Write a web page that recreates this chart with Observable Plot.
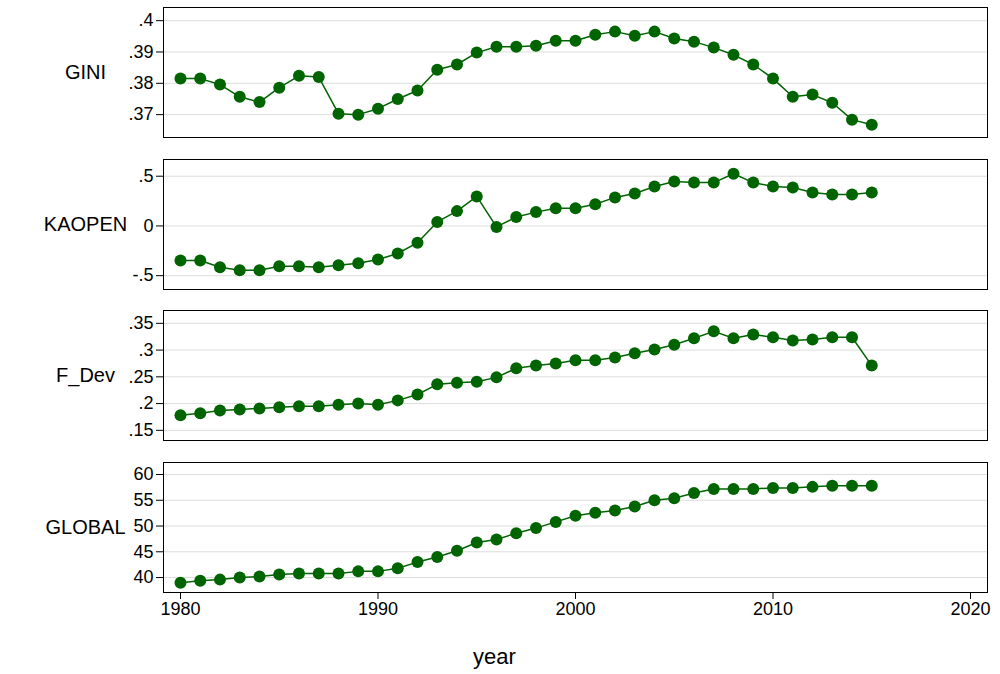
<!DOCTYPE html>
<html><head><meta charset="utf-8">
<script src="https://cdn.jsdelivr.net/npm/d3@7"></script>
<script src="https://cdn.jsdelivr.net/npm/@observablehq/plot@0.6"></script>
<style>body{margin:0;background:#fff;font-family:"Liberation Sans",Arial,sans-serif}svg{display:block}svg text{font-weight:normal}</style>
</head><body><div id="chart"></div>
<script>
const years = d3.range(1980, 2016);
const gini = [.3815,.3815,.3796,.3757,.374,.3786,.3824,.382,.3703,.370,.3719,.375,.3777,.3843,.386,.3898,.3917,.3917,.392,.3936,.3936,.3955,.3965,.3952,.3965,.3943,.3933,.3914,.3891,.386,.3815,.3757,.3764,.3738,.3684,.3668];
const kaopen = [-.347,-.347,-.416,-.446,-.446,-.406,-.406,-.416,-.396,-.376,-.337,-.277,-.168,.04,.149,.297,-.01,.089,.139,.178,.178,.218,.287,.327,.396,.446,.436,.436,.525,.436,.396,.386,.337,.317,.317,.337];
const fdev = [.178,.182,.187,.189,.191,.193,.195,.195,.198,.2,.198,.206,.217,.236,.239,.241,.249,.266,.271,.275,.281,.281,.286,.294,.301,.31,.322,.335,.322,.329,.324,.318,.32,.324,.324,.271];
const global = [39.0,39.4,39.6,40,40.2,40.6,40.8,40.8,40.8,41.2,41.2,41.8,43,44,45.2,46.8,47.4,48.6,49.6,50.8,52,52.6,53,53.8,55,55.4,56.4,57.2,57.2,57.2,57.4,57.4,57.6,57.8,57.8,57.8];

const panels = [
  {label: "GINI", values: gini, domain: [.3627, .4042], ticks: [.37,.38,.39,.4]},
  {label: "KAOPEN", values: kaopen, domain: [-.639, .668], ticks: [-.5,0,.5]},
  {label: "F_Dev", values: fdev, domain: [.131, .374], ticks: [.15,.2,.25,.3,.35]},
  {label: "GLOBAL", values: global, domain: [37.1, 62.33], ticks: [40,45,50,55,60]}
];
const fmt = d => String(+d.toFixed(4)).replace(/^(-?)0\./, "$1.");
const green = "#006400";

panels.forEach((p, i) => {
  const last = i === panels.length - 1;
  const data = years.map((y, j) => ({year: y, v: p.values[j]}));
  const chart = Plot.plot({
    width: 1000,
    height: last ? 219 : 151.5,
    marginLeft: 163, marginRight: 13, marginTop: 7,
    marginBottom: last ? 82 : 14.5,
    style: {fontSize: "18px", fontFamily: "Liberation Sans, Arial, sans-serif", color: "#000", fontWeight: "normal"},
    x: {domain: [1979.14, 2020.86], axis: null},
    y: {domain: p.domain, axis: null},
    marks: [
      Plot.gridY(p.ticks, {stroke: "#ddd", strokeOpacity: 1}),
      Plot.axisY({ticks: p.ticks, tickFormat: fmt, tickSize: 7, label: null, fontSize: 18}),
      last ? Plot.axisX({ticks: [1980,1990,2000,2010,2020], tickFormat: d => String(d), tickSize: 7,
        label: null, fontSize: 18}) : null,
      last ? Plot.text(["year"], {frameAnchor: "bottom", dx: -81, dy: 71, fontSize: 22, fill: "#000"}) : null,
      Plot.frame({stroke: "#000"}),
      Plot.line(data, {x: "year", y: "v", stroke: green, strokeWidth: 1.5}),
      Plot.dot(data, {x: "year", y: "v", fill: green, r: 6}),
      Plot.text([p.label], {frameAnchor: "left", dx: -78, textAnchor: "middle", fontSize: 20, fill: "#000"})
    ]
  });
  document.getElementById("chart").append(chart);
});
</script></body></html>
